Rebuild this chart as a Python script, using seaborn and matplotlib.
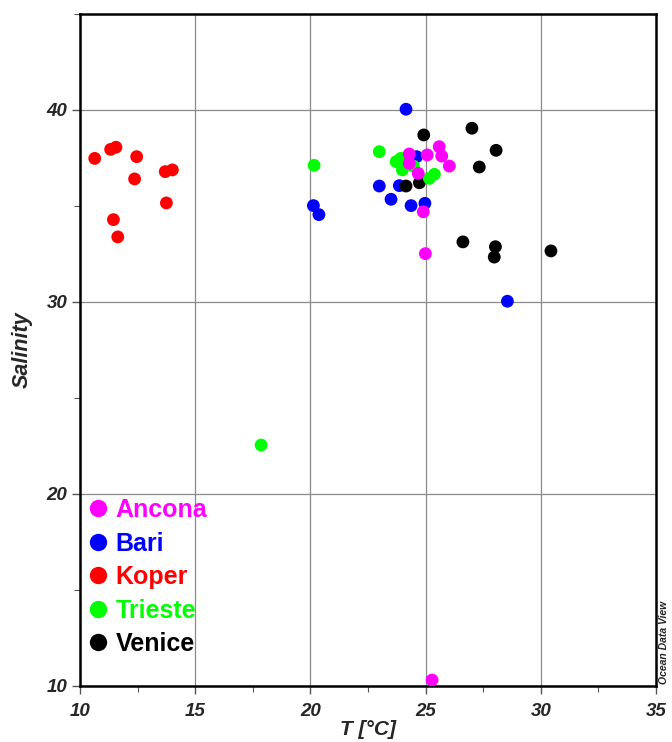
import matplotlib
matplotlib.use("Agg")
import matplotlib.pyplot as plt
from matplotlib.ticker import MultipleLocator
from matplotlib.lines import Line2D
import seaborn as sns
import pandas as pd

# Temperature (°C) and salinity per station
ancona_t = [24.29, 24.29, 25.07, 25.59, 25.70, 26.03, 24.68, 24.90, 24.99, 25.28]
ancona_s = [37.71, 37.22, 37.66, 38.09, 37.60, 37.08, 36.70, 34.70, 32.52, 10.31]

bari_t = [24.15, 24.61, 22.99, 23.86, 23.50, 24.37, 24.97, 20.13, 20.37, 28.55]
bari_s = [40.04, 37.57, 36.04, 36.06, 35.35, 35.02, 35.14, 35.02, 34.55, 30.04]

koper_t = [10.64, 11.33, 11.56, 12.46, 12.37, 13.70, 14.01, 11.45, 11.64, 13.75]
koper_s = [37.48, 37.95, 38.06, 37.57, 36.41, 36.79, 36.88, 34.29, 33.39, 35.16]

trieste_t = [22.99, 20.16, 23.72, 23.92, 24.47, 23.99, 25.16, 25.38, 17.86]
trieste_s = [37.83, 37.12, 37.31, 37.48, 37.08, 36.88, 36.44, 36.65, 22.55]

venice_t = [24.92, 27.01, 28.06, 27.33, 24.73, 24.15, 26.62, 28.03, 27.98, 30.44]
venice_s = [38.70, 39.05, 37.90, 37.03, 36.21, 36.04, 33.13, 32.88, 32.34, 32.66]

stations = ["Ancona", "Bari", "Koper", "Trieste", "Venice"]
colors = {"Ancona": "#ff00ff", "Bari": "#0000ff", "Koper": "#ff0000",
          "Trieste": "#00ff00", "Venice": "#000000"}

series = {
    "Ancona": (ancona_t, ancona_s),
    "Bari": (bari_t, bari_s),
    "Koper": (koper_t, koper_s),
    "Trieste": (trieste_t, trieste_s),
    "Venice": (venice_t, venice_s),
}

draw_order = ["Bari", "Venice", "Trieste", "Ancona", "Koper"]
frames = []
for name in draw_order:
    t, s = series[name]
    frames.append(pd.DataFrame({"T": t, "S": s, "Station": name}))
df = pd.concat(frames, ignore_index=True)

sns.set_style("white")
plt.rcParams["font.family"] = ["Liberation Sans", "DejaVu Sans"]

fig = plt.figure(figsize=(6.72, 7.42), dpi=100)
ax = fig.add_axes([80 / 672, 56 / 742, 576 / 672, 672 / 742])

for name in draw_order:
    sns.scatterplot(data=df[df["Station"] == name], x="T", y="S",
                    color=colors[name], s=85, edgecolor="none",
                    ax=ax, legend=False, zorder=3)

ax.set_xlim(10, 35)
ax.set_ylim(10, 45)
ax.xaxis.set_major_locator(MultipleLocator(5))
ax.xaxis.set_minor_locator(MultipleLocator(2.5))
ax.yaxis.set_major_locator(MultipleLocator(10))
ax.yaxis.set_minor_locator(MultipleLocator(5))

ax.grid(True, which="major", color="#8a8a8a", linewidth=0.9)
ax.set_axisbelow(True)
for sp in ax.spines.values():
    sp.set_color("black")
    sp.set_linewidth(1.8)

ax.tick_params(which="major", direction="out", length=6, width=1.0,
               color="#555555", bottom=True, left=True)
ax.tick_params(which="minor", direction="out", length=4, width=0.8,
               color="#555555", bottom=True, left=True)
ax.tick_params(axis="x", labelsize=13.5, pad=6)
ax.tick_params(axis="y", labelsize=13.5, pad=3)
for lab in ax.get_xticklabels() + ax.get_yticklabels():
    lab.set_fontweight("bold")
    lab.set_fontstyle("italic")

ax.set_xlabel("T [°C]", fontsize=15, fontweight="bold", fontstyle="italic",
              labelpad=0)
ax.set_ylabel("Salinity", fontsize=15.5, fontweight="bold", fontstyle="italic",
              labelpad=10)

handles = [Line2D([0], [0], marker="o", linestyle="none",
                  markerfacecolor=colors[n], markeredgecolor="none",
                  markersize=12.5) for n in stations]
leg = ax.legend(handles, stations, loc="lower left",
                bbox_to_anchor=(0.008, 0.037), frameon=False,
                prop={"size": 18, "weight": "bold"},
                handlelength=0.7, handletextpad=0.35, labelspacing=0.38,
                borderaxespad=0.0, borderpad=0.2)
for txt, n in zip(leg.get_texts(), stations):
    txt.set_color(colors[n])

fig.text(664 / 672, 58 / 742, "Ocean Data View", rotation=90,
         ha="center", va="bottom", fontsize=7.5, fontstyle="italic",
         fontweight="bold")

fig.savefig("out.png", dpi=100)
